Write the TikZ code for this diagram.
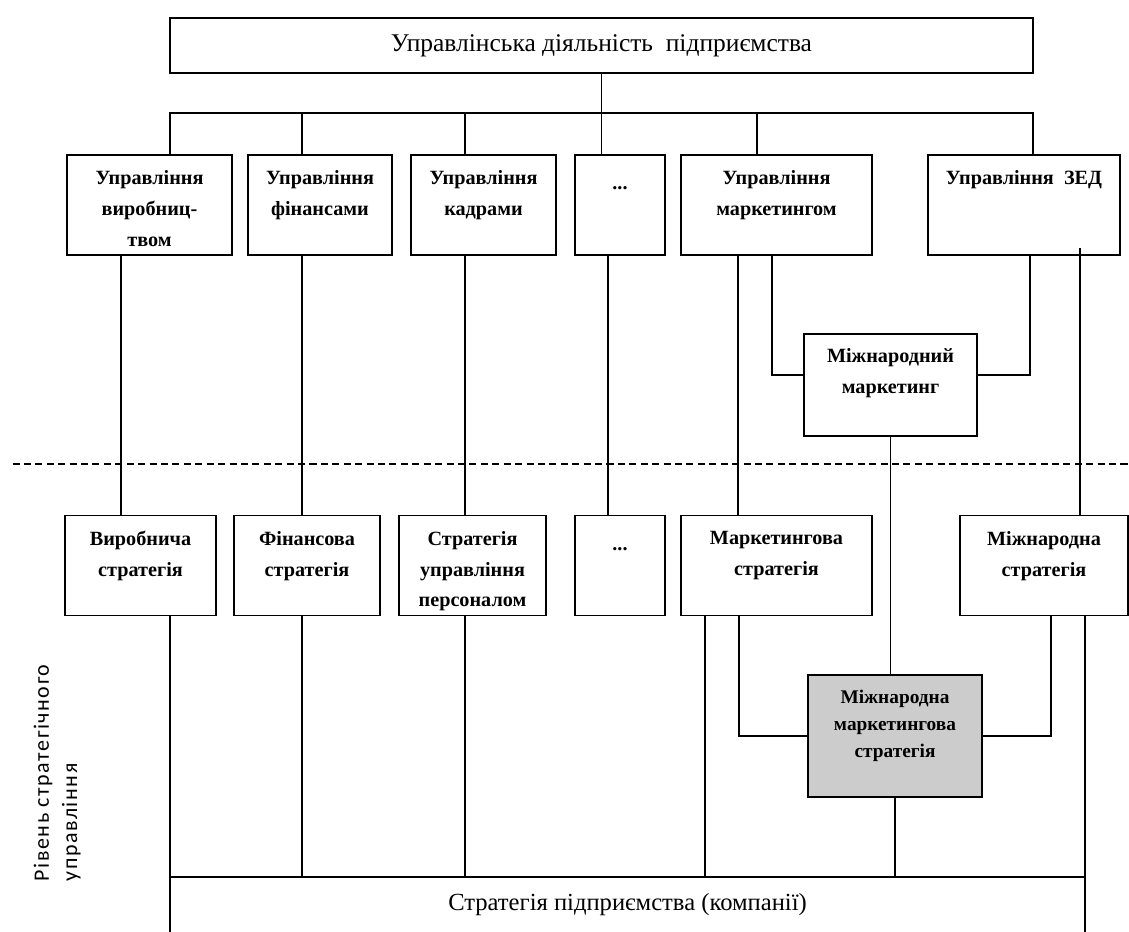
\documentclass[tikz,border=0pt]{standalone}
\usepackage{fontspec}
\setmainfont{Liberation Serif}
\newfontfamily\calibri[LetterSpace=7]{Carlito}

\begin{document}
\begin{tikzpicture}[
    line width=0.9pt,
    box/.style={draw, line width=1pt, inner sep=0pt},
    boxtext/.style={align=center, anchor=north, inner sep=0pt, font=\bfseries\fontsize{11.5}{17.5}\selectfont},
    bigtext/.style={align=center, inner sep=0pt, font=\fontsize{14.5}{17}\selectfont},
    level line/.style={dash pattern=on 4pt off 2.5pt, line width=0.8pt}
]
    % Set box dimensions
    \pgfmathsetmacro{\rowheight}{2.0}
    \useasboundingbox (0,0) rectangle (22.58,-18.62);

    % Top box
    \node[box, minimum width=17.26cm, minimum height=1.10cm] at (12.03,-0.91) (top) {};
    \node[bigtext] at (top.center) (toptext) {Управлінська діяльність~~підприємства};
    \coordinate (bus) at (12.03,-2.26);

    % First row: management functions
    \node[box, minimum width=3.30cm, minimum height=\rowheight cm] at (2.99,-4.10) (a1) {};
    \node[box, minimum width=2.88cm, minimum height=\rowheight cm] at (6.40,-4.10) (a2) {};
    \node[box, minimum width=2.90cm, minimum height=\rowheight cm] at (9.67,-4.10) (a3) {};
    \node[box, minimum width=1.80cm, minimum height=\rowheight cm] at (12.40,-4.10) (a4) {};
    \node[box, minimum width=3.82cm, minimum height=\rowheight cm] at (15.53,-4.10) (a5) {};
    \node[box, minimum width=3.84cm, minimum height=\rowheight cm] at (20.48,-4.10) (a6) {};

    \node[boxtext] at ([yshift=-0.32cm]a1.north) (a1text) {Управління\\виробниц-\\твом};
    \node[boxtext] at ([yshift=-0.32cm]a2.north) (a2text) {Управління\\фінансами};
    \node[boxtext] at ([yshift=-0.32cm]a3.north) (a3text) {Управління\\кадрами};
    \node[boxtext] at ([yshift=-0.64cm]a4.north) (a4text) {...};
    \node[boxtext] at ([yshift=-0.32cm]a5.north) (a5text) {Управління\\маркетингом};
    \node[boxtext] at ([yshift=-0.32cm]a6.north) (a6text) {Управління~~ЗЕД};

    % International marketing
    \node[box, minimum width=3.46cm, minimum height=2.04cm] at (17.81,-7.70) (mm) {};
    \node[boxtext] at ([yshift=-0.30cm]mm.north) (mmtext) {Міжнародний\\маркетинг};

    % Second row: strategies
    \node[box, minimum width=3.02cm, minimum height=\rowheight cm] at (2.81,-11.31) (b1) {};
    \node[box, minimum width=2.92cm, minimum height=\rowheight cm] at (6.14,-11.31) (b2) {};
    \node[box, minimum width=2.94cm, minimum height=\rowheight cm] at (9.45,-11.31) (b3) {};
    \node[box, minimum width=1.80cm, minimum height=\rowheight cm] at (12.40,-11.31) (b4) {};
    \node[box, minimum width=3.82cm, minimum height=\rowheight cm] at (15.53,-11.31) (b5) {};
    \node[box, minimum width=3.36cm, minimum height=\rowheight cm] at (20.88,-11.31) (b6) {};

    \node[boxtext] at ([yshift=-0.32cm]b1.north) (b1text) {Виробнича\\стратегія};
    \node[boxtext] at ([yshift=-0.32cm]b2.north) (b2text) {Фінансова\\стратегія};
    \node[boxtext] at ([yshift=-0.32cm]b3.north) (b3text) {Стратегія\\управління\\персоналом};
    \node[boxtext] at ([yshift=-0.64cm]b4.north) (b4text) {...};
    \node[boxtext] at ([yshift=-0.32cm]b5.north) (b5text) {Маркетингова\\стратегія};
    \node[boxtext] at ([yshift=-0.32cm]b6.north) (b6text) {Міжнародна\\стратегія};

    % International marketing strategy
    \node[box, fill=black!20, minimum width=3.48cm, minimum height=2.44cm] at (17.90,-14.72) (imms) {};
    \node[boxtext, font=\bfseries\fontsize{11}{15.5}\selectfont] at ([yshift=-0.30cm]imms.north) (immstext) {Міжнародна\\маркетингова\\стратегія};

    % Company strategy (open at the bottom)
    \coordinate (barL) at (3.40,-17.54);
    \coordinate (barR) at (21.70,-17.54);
    \node[bigtext, font=\fontsize{14}{17}\selectfont] at (12.55,-18.10) (firm) {Стратегія підприємства (компанії)};

    % Level label
    \node[rotate=90, anchor=north west, align=left, inner sep=0pt, font=\calibri\fontsize{12.5}{16}\selectfont] at (0.66,-17.64) (lvl) {Рівень стратегічного\\управління};

    % Connectors from the top box
    \draw (top.south) -- (top.south |- a4.north);
    \draw (top.south west |- bus) -- (top.south east |- bus);
    \foreach \x/\n in {3.40/a1, 6.04/a2, 9.30/a3, 15.14/a5, 20.66/a6}
        \draw (bus -| \x,0) -- (\n.north -| \x,0);

    % Connectors between the rows
    \foreach \x/\p/\q in {2.42/a1/b1, 6.04/a2/b2, 9.30/a3/b3, 12.16/a4/b4, 14.76/a5/b5}
        \draw (\p.south -| \x,0) -- (\q.north -| \x,0);
    \draw ([yshift=0.16cm]a6.south -| 21.60,0) -- (b6.north -| 21.60,0);
    \draw (a5.south -| 15.44,0) |- ([yshift=0.20cm]mm.west);
    \draw (a6.south -| 20.60,0) |- ([yshift=0.20cm]mm.east);
    \draw (mm.south) -- (imms.north -| mm.south);

    % Level of strategic management
    \draw[level line] (0.25,-9.28) -- (22.58,-9.28);

    % Connectors to the strategies
    \draw (b5.south -| 14.78,0) |- (imms.west);
    \draw (b6.south -| 21.02,0) |- (imms.east);
    \foreach \x/\n in {6.04/b2, 9.30/b3, 14.10/b5}
        \draw (\n.south -| \x,0) -- (barL -| \x,0);
    \draw (imms.south) -- (imms.south |- barL);
    \draw (b1.south -| barL) -- (barL |- 0,-18.9);
    \draw (b6.south -| barR) -- (barR |- 0,-18.9);
    \draw (barL) -- (barR);
\end{tikzpicture}
\end{document}
